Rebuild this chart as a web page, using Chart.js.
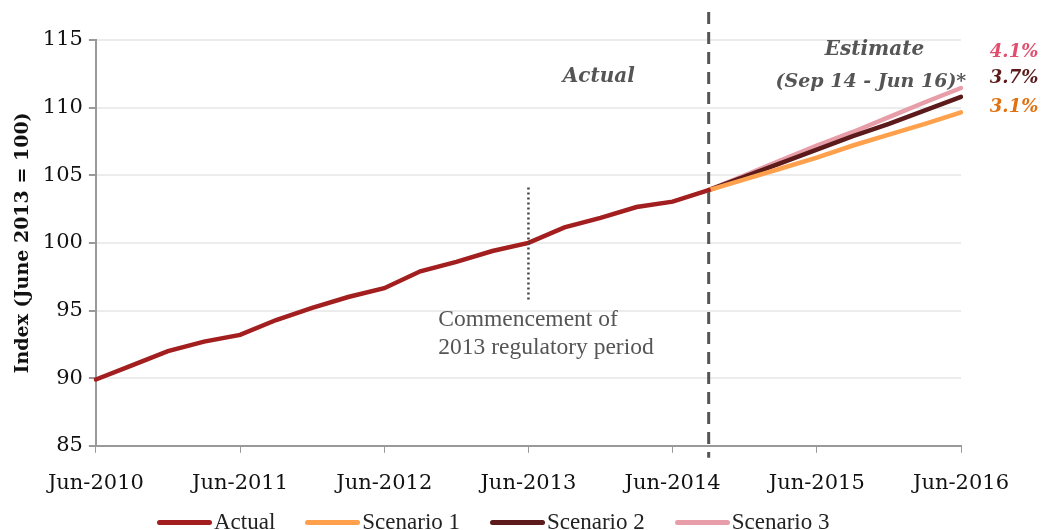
<!DOCTYPE html>
<html>
<head>
<meta charset="utf-8">
<script src="https://cdn.jsdelivr.net/npm/chart.js@4.4.0/dist/chart.umd.min.js"></script>
<style>
  body { margin: 0; overflow: hidden; background: #fff; width: 1041px; height: 530px; position: relative; }
  #grafica { position: absolute; top: 0; left: 0; }
  #leyenda { position: absolute; top: 509px; left: 157px; display: flex; align-items: center;
    font-family: 'Liberation Serif', 'Times New Roman', serif; font-size: 23px; color: #222; white-space: nowrap; }
  #leyenda .item { display: flex; align-items: center; margin-right: 30px; }
  #leyenda .caja { width: 55px; height: 5px; border-radius: 3px; margin-right: 2px; }
</style>
</head>
<body>
<canvas id="grafica" width="1041" height="518"></canvas>
<div id="leyenda"></div>
<script>
// quarters on the x axis
const quarters = [
  "Jun-2010", "Sep-2010", "Dec-2010", "Mar-2011",
  "Jun-2011", "Sep-2011", "Dec-2011", "Mar-2012",
  "Jun-2012", "Sep-2012", "Dec-2012", "Mar-2013",
  "Jun-2013", "Sep-2013", "Dec-2013", "Mar-2014",
  "Jun-2014", "Sep-2014", "Dec-2014", "Mar-2015",
  "Jun-2015", "Sep-2015", "Dec-2015", "Mar-2016",
  "Jun-2016"
];

// index values
const actual = [89.9, 90.95, 92.0, 92.7, 93.2, 94.3, 95.2, 96.0, 96.65, 97.9, 98.6, 99.4,
  100.0, 101.15, 101.85, 102.65, 103.05, 103.9,
  null, null, null, null, null, null, null];
const scenario1 = [null, null, null, null, null, null, null, null, null, null, null, null,
  null, null, null, null, null, 103.9, 104.7, 105.5, 106.3, 107.2, 108.0, 108.8, 109.65];
const scenario2 = [null, null, null, null, null, null, null, null, null, null, null, null,
  null, null, null, null, null, 103.9, 104.9, 105.9, 106.9, 107.9, 108.8, 109.8, 110.8];
const scenario3 = [null, null, null, null, null, null, null, null, null, null, null, null,
  null, null, null, null, null, 103.9, 105.0, 106.1, 107.2, 108.2, 109.3, 110.4, 111.45];

const growthLabels = ["4.1%", "3.7%", "3.1%"];

const serif = "'DejaVu Serif', Georgia, serif";
const narrow = "'Liberation Serif', 'Times New Roman', serif";

// dashed/dotted lines and texts on top of the chart
const marcas = {
  id: "marcas",
  afterDatasetsDraw(chart) {
    const { ctx, scales: { x, y }, chartArea } = chart;
    ctx.save();

    // start of estimate
    const xs = x.getPixelForValue(quarters.indexOf("Sep-2014"));
    ctx.strokeStyle = "#555";
    ctx.lineWidth = 3;
    ctx.setLineDash([12, 8]);
    ctx.beginPath();
    ctx.moveTo(xs, 12);
    ctx.lineTo(xs, chartArea.bottom + 12);
    ctx.stroke();

    // commencement of regulatory period
    const xd = x.getPixelForValue(quarters.indexOf("Jun-2013"));
    ctx.strokeStyle = "#444";
    ctx.lineWidth = 2.5;
    ctx.setLineDash([2, 3]);
    ctx.beginPath();
    ctx.moveTo(xd, y.getPixelForValue(104.1));
    ctx.lineTo(xd, y.getPixelForValue(95.8));
    ctx.stroke();
    ctx.setLineDash([]);

    ctx.textBaseline = "middle";
    ctx.fillStyle = "#555";
    ctx.textAlign = "center";
    ctx.font = "italic bold 20px " + serif;
    ctx.fillText("Actual", x.getPixelForValue(13.95), y.getPixelForValue(112.3));
    ctx.fillText("Estimate", x.getPixelForValue(21.6), y.getPixelForValue(114.3));
    ctx.font = "italic bold 19px " + serif;
    ctx.fillText("(Sep 14 - Jun 16)*", x.getPixelForValue(21.5), y.getPixelForValue(111.9));

    ctx.textAlign = "left";
    ctx.font = "23.5px " + narrow;
    ctx.fillStyle = "#555";
    ctx.fillText("Commencement of", x.getPixelForValue(9.5), y.getPixelForValue(94.3));
    ctx.fillText("2013 regulatory period", x.getPixelForValue(9.5), y.getPixelForValue(92.25));

    ctx.font = "italic bold 18px " + serif;
    const colores = ["#e0506e", "#5c1a1a", "#e07010"];
    const niveles = [114.1, 112.2, 110.0];
    growthLabels.forEach((t, i) => {
      ctx.fillStyle = colores[i];
      ctx.fillText(t, x.getPixelForValue(24.8), y.getPixelForValue(niveles[i]));
    });
    ctx.restore();
  }
};

const myChart = new Chart("grafica", {
  type: "line",
  data: {
    labels: quarters,
    datasets: [
      { label: "Actual", data: actual, borderColor: "#a31f1f", backgroundColor: "#a31f1f", borderWidth: 4.5 },
      { label: "Scenario 1", data: scenario1, borderColor: "#ffa04d", backgroundColor: "#ffa04d", borderWidth: 4.5 },
      { label: "Scenario 2", data: scenario2, borderColor: "#5c1a1a", backgroundColor: "#5c1a1a", borderWidth: 4.5 },
      { label: "Scenario 3", data: scenario3, borderColor: "#e89ea8", backgroundColor: "#e89ea8", borderWidth: 4.5 }
    ]
  },
  options: {
    responsive: false,
    animation: false,
    elements: { point: { radius: 0 }, line: { tension: 0, borderCapStyle: "round" } },
    layout: { padding: { top: 40, right: 80, left: 12, bottom: 4 } },
    plugins: {
      tooltip: { enabled: false },
      legend: { display: false }
    },
    scales: {
      x: {
        offset: false,
        border: { color: "#999", width: 2 },
        grid: { drawOnChartArea: false, color: "#999", tickLength: 7 },
        ticks: {
          autoSkip: false,
          maxRotation: 0,
          padding: 18,
          color: "#111",
          font: { family: serif, size: 21 },
          callback: function (value) {
            const lab = this.getLabelForValue(value);
            return lab.startsWith("Jun") ? lab : null;
          }
        }
      },
      y: {
        min: 85,
        max: 115,
        border: { color: "#999", width: 2 },
        grid: { color: "#ececec", lineWidth: 2, tickColor: "#999", tickLength: 7 },
        ticks: { stepSize: 5, padding: 6, color: "#111", font: { family: serif, size: 21 } },
        title: {
          display: true,
          text: "Index (June 2013 = 100)",
          color: "#111",
          padding: { top: 0, bottom: 2 },
          font: { family: serif, size: 19, weight: "bold" }
        }
      }
    }
  },
  plugins: [marcas]
});

// legend under the chart, built from the datasets
const leyenda = document.getElementById("leyenda");
myChart.data.datasets.forEach(ds => {
  const item = document.createElement("div");
  item.className = "item";
  const caja = document.createElement("span");
  caja.className = "caja";
  caja.style.background = ds.borderColor;
  const texto = document.createElement("span");
  texto.textContent = ds.label;
  item.appendChild(caja);
  item.appendChild(texto);
  leyenda.appendChild(item);
});
</script>
</body>
</html>
